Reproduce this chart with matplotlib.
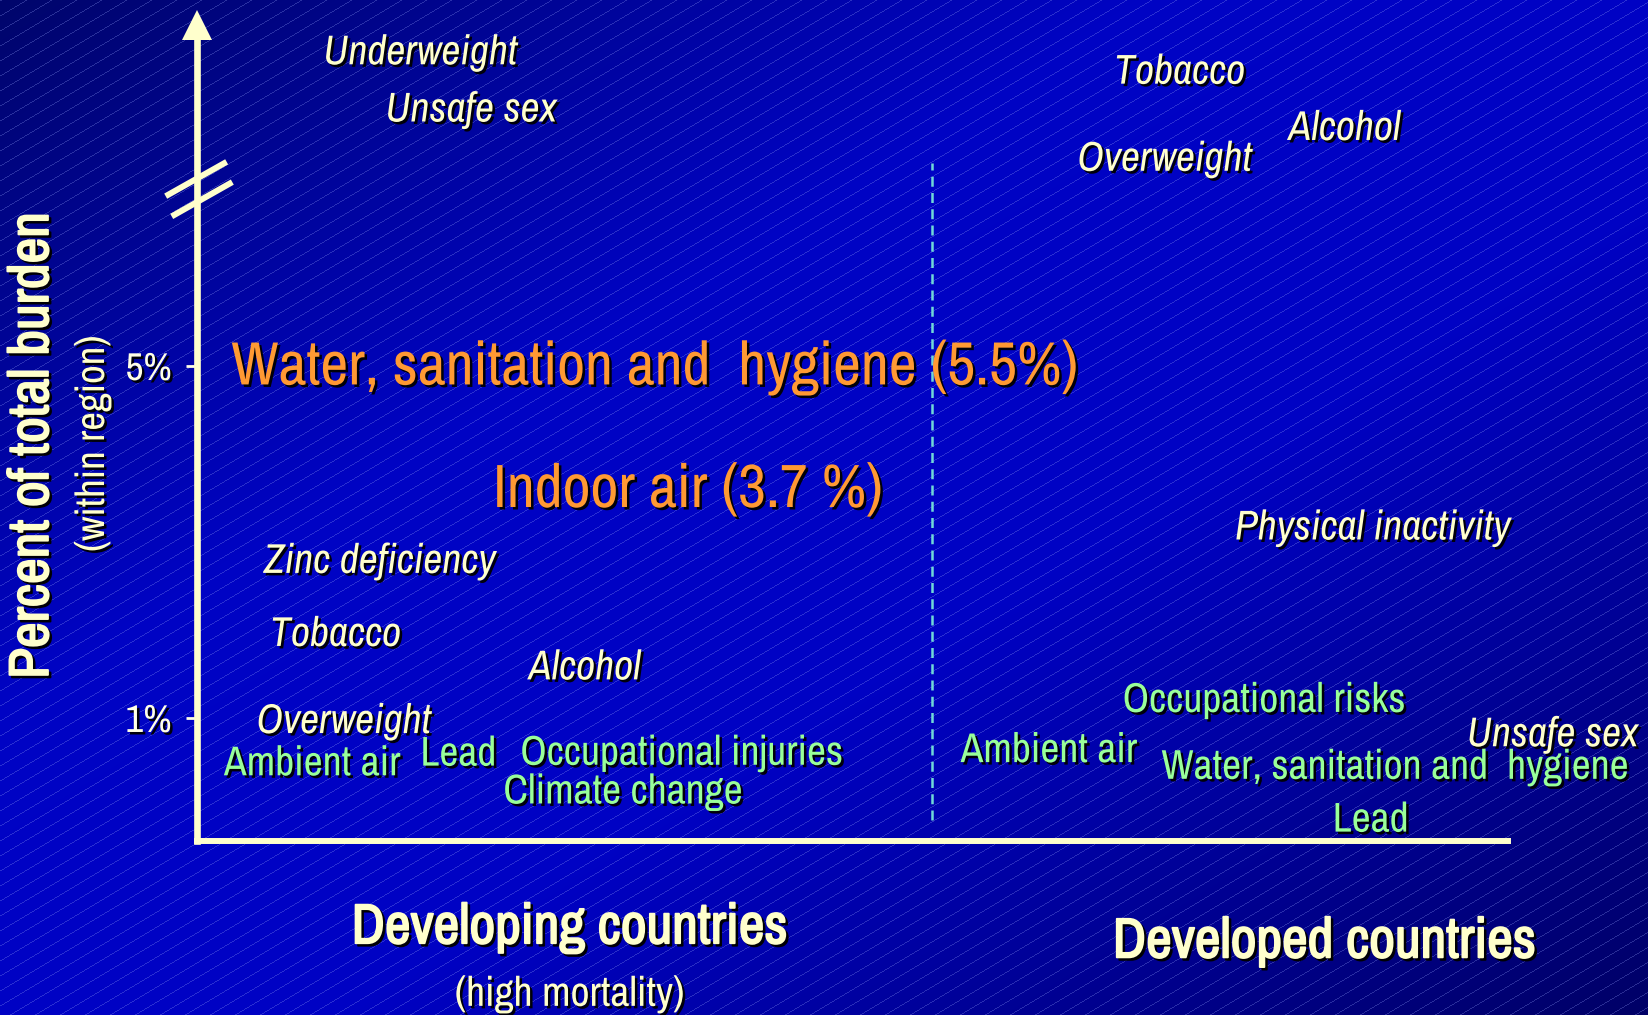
"""
Environmental risks vs other risk factors, developing vs developed countries
"""

import matplotlib.pyplot as plt
import matplotlib.patheffects as pe
from matplotlib import font_manager as fm
import numpy as np

available = {f.name for f in fm.fontManager.ttflist}
narrow = next((n for n in ['Liberation Sans Narrow', 'Arial Narrow', 'Archivo Narrow',
                           'Roboto Condensed', 'Sofia Sans Condensed', 'PT Sans Narrow']
               if n in available), 'DejaVu Sans')
plt.rcParams['font.family'] = [narrow, 'DejaVu Sans']

# --- data -------------------------------------------------------------
# x: horizontal placement across the panel (0-100), y: percent of total burden
# (values above ~6.5 sit beyond the axis break)
other_labels = ['Underweight', 'Unsafe sex', 'Zinc deficiency', 'Tobacco', 'Alcohol', 'Overweight',
                'Tobacco', 'Alcohol', 'Overweight', 'Physical inactivity', 'Unsafe sex']
other_x = [9.70, 14.43, 5.13, 5.61, 25.33, 4.57,
           69.97, 83.26, 67.16, 79.18, 96.89]
other_y = [8.565, 7.915, 2.785, 1.955, 1.575, 0.965,
           8.345, 7.705, 7.355, 3.165, 0.815]

env_labels = ['Ambient air', 'Lead', 'Occupational injuries', 'Climate change',
              'Ambient air', 'Occupational risks', 'Water, sanitation and  hygiene', 'Lead']
env_x = [2.09, 17.07, 24.68, 23.40, 58.26, 70.61, 73.57, 86.63]
env_y = [0.485, 0.595, 0.605, 0.165, 0.635, 1.205, 0.445, -0.155]

main_labels = ['Water, sanitation and  hygiene (5.5%)', 'Indoor air (3.7 %)']
main_x = [2.65, 22.60]
main_y = [4.975, 3.585]

region_labels = ['Developing countries', 'Developed countries']
region_sub = ['(high mortality)', '']
region_x = [28.45, 86.0]
region_y = [-1.395, -1.55]

yticks = [1, 5]
ytick_labels = ['1%', '5%']
divider_x = 56.1

cream = '#FFFFCC'
green = '#99FF99'
orange = '#FF9933'
shadow = [pe.withSimplePatchShadow(offset=(1.8, -1.8), shadow_rgbFace='black', alpha=0.95)]
# heavier strokes for the region / axis titles
bold = [pe.SimplePatchShadow(offset=(1.8, -1.8), shadow_rgbFace='black', alpha=0.95, linewidth=1.3),
        pe.Stroke(linewidth=1.3, foreground=cream), pe.Normal()]

W, H = 1648, 1015
fig = plt.figure(figsize=(W / 100, H / 100), dpi=100)

# background: diagonal blue gradient with thin light stripes
r, c = np.mgrid[0:H, 0:W]
t = (c / W + r / H) / 2
b = np.interp(t, [0, 0.35, 0.6, 1], [0.42, 0.77, 0.77, 0.40])
img = np.zeros((H, W, 3))
img[..., 2] = b
img[..., 1] = 0.02 * (1 - t)
stripe = ((r + 0.6 * c) % 15.0) < 0.9
img[stripe] = img[stripe] * 0.7 + np.array([0.55, 0.6, 0.95]) * 0.3
bg = fig.add_axes([0, 0, 1, 1])
bg.imshow(img, aspect='auto', extent=[0, 1, 0, 1], interpolation='nearest')
bg.axis('off')

ax = fig.add_axes([196.5 / W, (H - 841) / H, (1508 - 196.5) / W, (841 - 10.5) / H])
ax.set_facecolor('none')
ax.set_xlim(0, 100)
ax.set_ylim(-0.398, 9.04)
for s in ['top', 'right', 'left']:
    ax.spines[s].set_visible(False)
ax.spines['bottom'].set_color(cream)
ax.spines['bottom'].set_linewidth(4.3)
ax.spines['bottom'].set_capstyle('projecting')

# vertical axis with arrow head and break marks
ax.plot([0, 0], [-0.398, 8.875], color=cream, lw=4.8, clip_on=False, solid_capstyle='projecting')
ax.plot(0, 8.875, marker='^', ms=21.6, color=cream, mew=0, clip_on=False)
ax.plot([-2.35, 2.30], [6.93, 7.32], color=cream, lw=4.3, clip_on=False, solid_capstyle='butt')
ax.plot([-1.89, 2.73], [6.70, 7.09], color=cream, lw=4.3, clip_on=False, solid_capstyle='butt')

ax.set_xticks([])
ax.set_yticks(yticks)
ax.set_yticklabels(ytick_labels)
ax.tick_params(axis='y', length=8, width=2, color='#FFFFE6', pad=10, labelsize=28, labelcolor='#FFFFE6')
for lbl in ax.get_yticklabels():
    lbl.set_path_effects(shadow)

ax.vlines(divider_x, -0.16, 7.31, colors='#70D8D8', lw=1.8, linestyles=(0, (4, 2.5)))

for lab, x, y in zip(other_labels, other_x, other_y):
    ax.text(x, y, lab, color=cream, fontsize=30, style='italic', ha='left', va='center',
            path_effects=shadow, clip_on=False)
for lab, x, y in zip(env_labels, env_x, env_y):
    ax.text(x, y, lab, color=green, fontsize=30, ha='left', va='center',
            path_effects=shadow, clip_on=False)
for lab, x, y in zip(main_labels, main_x, main_y):
    ax.text(x, y, lab, color=orange, fontsize=44, ha='left', va='center',
            path_effects=shadow, clip_on=False)
for lab, sub, x, y in zip(region_labels, region_sub, region_x, region_y):
    ax.text(x, y, lab, color=cream, fontsize=40.5, ha='center', va='center',
            path_effects=bold, clip_on=False)
    if sub:
        ax.text(x, y - 0.74, sub, color=cream, fontsize=30, ha='center', va='center',
                path_effects=shadow, clip_on=False)

fig.text(33 / W, 1 - 445.6 / H, 'Percent of total burden', rotation=90, color=cream,
         fontsize=40.5, ha='center', va='center', path_effects=bold)
fig.text(92.5 / W, 1 - 443.5 / H, '(within region)', rotation=90, color=cream,
         fontsize=29.5, ha='center', va='center', path_effects=shadow)

plt.savefig('out.png', dpi=100)
